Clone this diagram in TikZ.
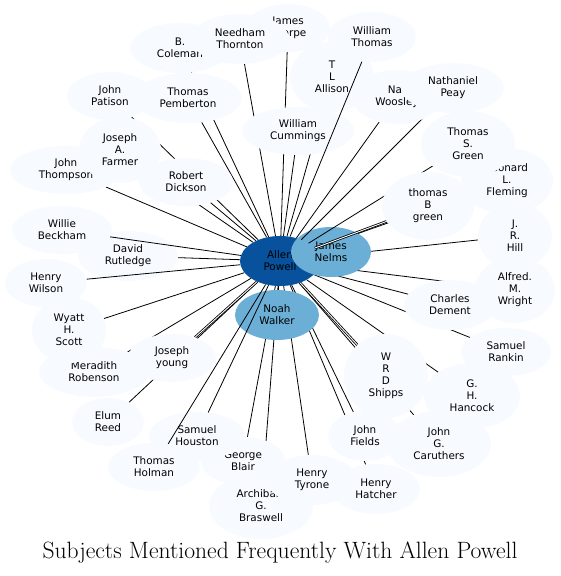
\documentclass[tikz,border=0pt]{standalone}
\usepackage{fontspec}
\usetikzlibrary{shapes.geometric}
\newfontfamily\labelfont{DejaVu Sans}
\definecolor{pale}{HTML}{F7FBFF}
\definecolor{deep}{HTML}{08519C}
\definecolor{mid}{HTML}{6BAED6}
\pgfdeclarelayer{edges}
\pgfdeclarelayer{low}
\pgfdeclarelayer{over}
\pgfsetlayers{edges,low,over,main}

\begin{document}
\begin{tikzpicture}[x=1pt,y=-1pt,
    subj/.style={ellipse,fill=pale,inner sep=0pt,align=center,
                 font=\labelfont\fontsize{10.4}{12}\selectfont},
    sz/.style 2 args={minimum width=#1pt,minimum height=#2pt},
    link/.style={line width=0.8pt,black},
    twin/.style={line width=0.8pt,black,double=white,double distance=0.9pt}]
  \useasboundingbox (0,0) rectangle (561,576);

  % hub and the nodes that some edges cross
  \begin{pgfonlayer}{low}
  \node[subj,sz={80}{50},fill=deep] (ap) at (280,261) {Allen\\Powell};
  \node[subj,sz={80}{50},fill=mid] (jn) at (331,252) {James\\Nelms};
  \node[subj,sz={84}{50},fill=mid] (nw) at (277,315) {Noah\\Walker};
  \node[subj,sz={84}{70}] (tla) at (332,77) {T\\L\\Allison};
  \node[subj,sz={112}{48}] (wc) at (298,131) {William\\Cummings};
  \node[subj,sz={100}{50}] (dr) at (128,256) {David\\Rutledge};
  \node[subj,sz={84}{48}] (gb) at (243,461) {George\\Blair};
  \node[subj,sz={96}{48}] (sh) at (197,436) {Samuel\\Houston};
  \end{pgfonlayer}

  % outer ring
  \node[subj,sz={100}{50}] (bc) at (180,48) {B.\\Coleman};
  \node[subj,sz={84}{48}] (jt) at (288,28) {James\\Thorpe};
  \node[subj,sz={98}{50}] (nt) at (240,39) {Needham\\Thornton};
  \node[subj,sz={88}{50}] (wt) at (372,37) {William\\Thomas};
  \node[subj,sz={90}{54}] (nwo) at (397,97) {Nat\\Woosley};
  \node[subj,sz={102}{50}] (np) at (453,88) {Nathaniel\\Peay};
  \node[subj,sz={92}{66}] (lf) at (507,181) {Leonard\\L.\\Fleming};
  \node[subj,sz={94}{66}] (tsg) at (468,144) {Thomas\\S.\\Green};
  \node[subj,sz={92}{68}] (tbg) at (428,206) {thomas\\B\\green};
  \node[subj,sz={74}{66}] (jrh) at (515,236) {J.\\R.\\Hill};
  \node[subj,sz={80}{66}] (amw) at (515,290) {Alfred.\\M.\\Wright};
  \node[subj,sz={92}{50}] (cd) at (450,305) {Charles\\Dement};
  \node[subj,sz={90}{48}] (sr) at (506,352) {Samuel\\Rankin};
  \node[subj,sz={84}{84}] (wrd) at (386,376) {W\\R\\D\\Shipps};
  \node[subj,sz={96}{66}] (ghh) at (472,396) {G.\\H.\\Hancock};
  \node[subj,sz={104}{66}] (jgc) at (439,444) {John\\G.\\Caruthers};
  \node[subj,sz={74}{50}] (jf) at (365,436) {John\\Fields};
  \node[subj,sz={88}{50}] (hh) at (376,489) {Henry\\Hatcher};
  \node[subj,sz={104}{66}] (agb) at (261,506) {Archibald\\G.\\Braswell};
  \node[subj,sz={90}{50}] (ht) at (312,480) {Henry\\Tyrone};
  \node[subj,sz={92}{48}] (th) at (154,467) {Thomas\\Holman};
  \node[subj,sz={72}{48}] (er) at (108,422) {Elum\\Reed};
  \node[subj,sz={110}{50}] (mr) at (94,372) {Meradith\\Robenson};
  \node[subj,sz={88}{48}] (jy) at (172,358) {Joseph\\young};
  \node[subj,sz={74}{66}] (whs) at (69,330) {Wyatt\\H.\\Scott};
  \node[subj,sz={82}{48}] (hw) at (46,283) {Henry\\Wilson};
  \node[subj,sz={100}{48}] (wb) at (62,230) {Willie\\Beckham};
  \node[subj,sz={112}{48}] (jth) at (66,170) {John\\Thompson};
  \node[subj,sz={82}{66}] (jaf) at (120,150) {Joseph\\A.\\Farmer};
  \node[subj,sz={94}{48}] (rd) at (186,182) {Robert\\Dickson};
  \node[subj,sz={86}{48}] (jp) at (110,96) {John\\Patison};
  \node[subj,sz={108}{50}] (tp) at (188,98) {Thomas\\Pemberton};

  \node (title) at (280,553) {\fontsize{23.6}{28}\selectfont Subjects Mentioned Frequently With Allen Powell};

  \begin{pgfonlayer}{edges}
  \foreach \b in {jn,nw,tla,wc,dr,gb,bc,jt,nt,nwo,lf,jrh,amw,cd,sr,ghh,jgc,
                  jf,hh,agb,ht,er,mr,whs,jth,jaf,rd,jp,tp}
    \draw[link] (ap) -- (\b);
  \foreach \b in {jy,wrd} \draw[twin] (ap) -- (\b);
  \end{pgfonlayer}

  \begin{pgfonlayer}{over}
  \foreach \b in {wt,np,tsg,th,sh,wb,hw} \draw[link] (ap) -- (\b);
  \draw[twin] (ap) -- (tbg);
  \end{pgfonlayer}
\end{tikzpicture}
\end{document}
